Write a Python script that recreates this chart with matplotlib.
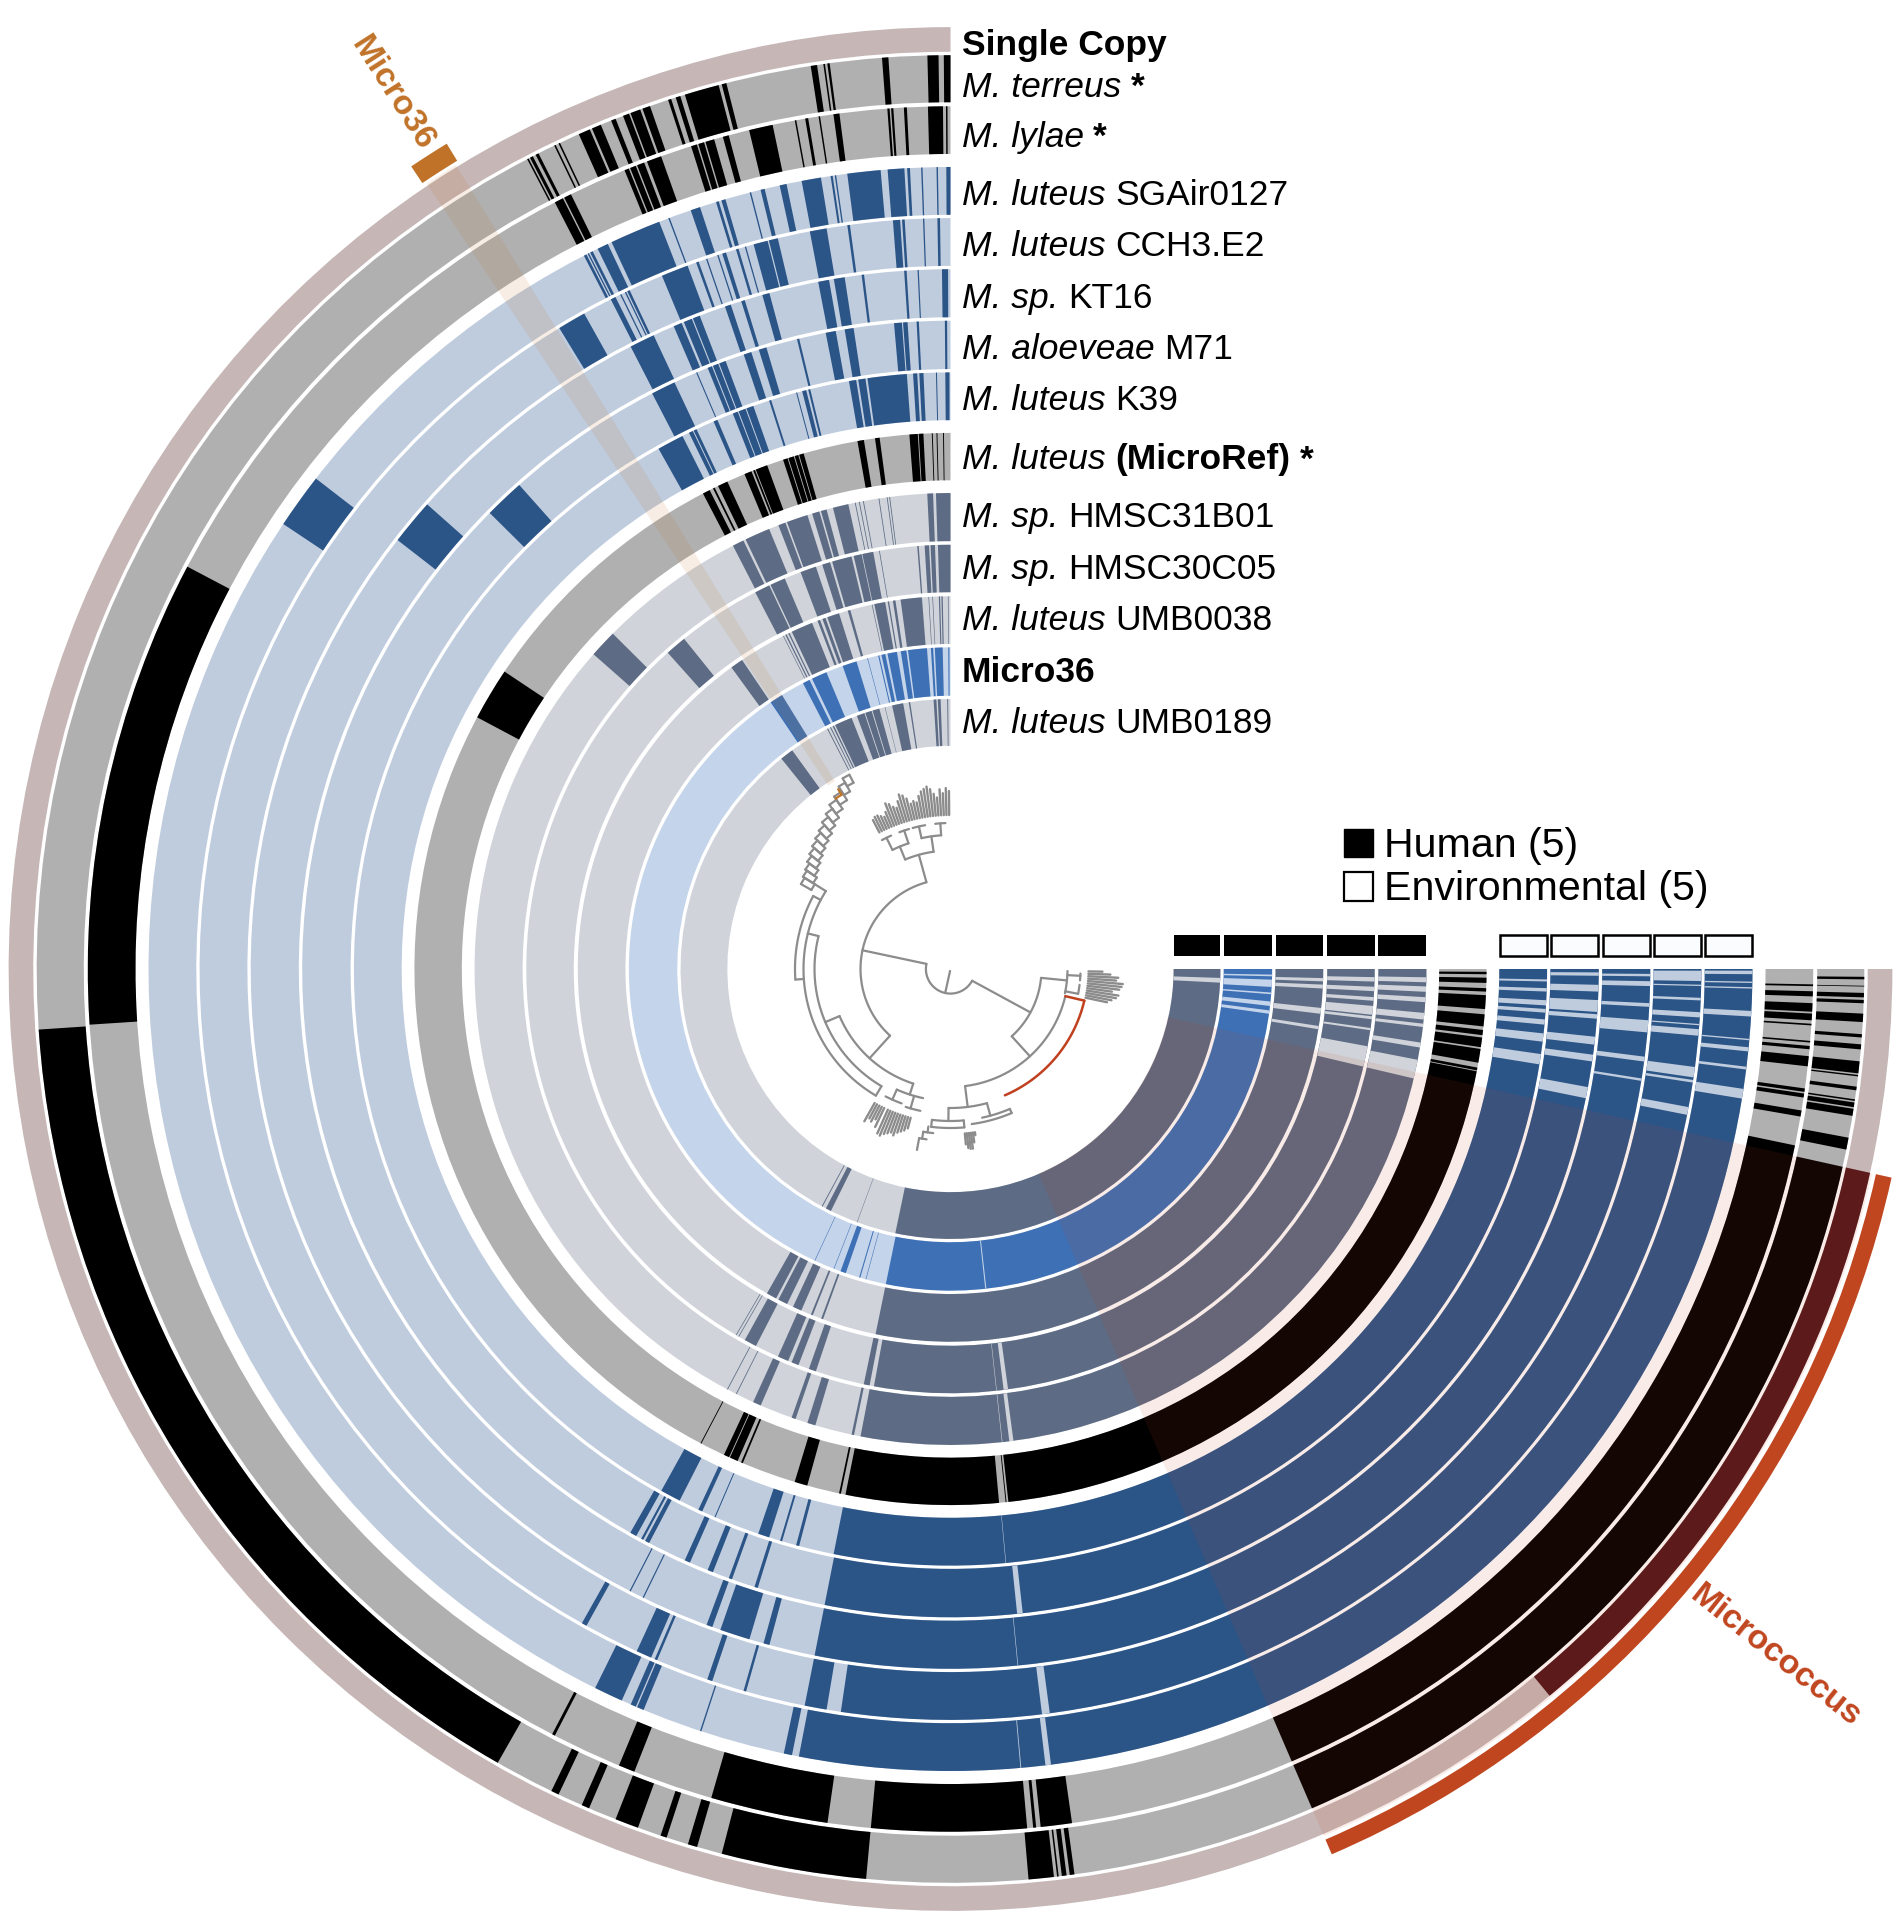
import matplotlib
matplotlib.use("Agg")
import matplotlib.pyplot as plt
from matplotlib.patches import Wedge, Rectangle
import numpy as np

plt.rcParams['font.family'] = ['Liberation Sans', 'DejaVu Sans']

# angle = degrees counter-clockwise from 12 o'clock; the track runs 0..270
SWEEP = 270
ring_names = ['single', 'terreus', 'lylae', 'SGAir0127', 'CCH3', 'KT16', 'M71', 'K39', 'MicroRef',
              'HMSC31B01', 'HMSC30C05', 'UMB0038', 'Micro36', 'UMB0189']
ring_outer = [940, 912, 861, 800.4, 749.4, 698.4, 647, 595.4, 535, 475, 423.4, 372, 321, 269.4]
ring_inner = [915.4, 865, 813.4, 752.7, 701.7, 650.4, 598.7, 547.7, 487.7, 427, 376, 324.4, 272.7, 222.7]

# presence intervals along the track
single_marks = [(219.5, 257.5)]
terreus_marks = [(0, .42), (.75, 1.45), (3.9, 4.3), (7.6, 7.75), (7.9, 8.0), (8.4, 8.8), (14.2, 14.5), (14.7, 16.9),
                 (17.2, 17.5), (17.8, 18), (19.2, 19.7), (19.85, 20.5), (20.6, 21), (21.5, 21.8), (22.5, 23.1),
                 (23.25, 24), (25.3, 25.4), (25.6, 25.7), (26.8, 27), (27.2, 27.4), (27.5, 27.6),
                 (93.8, 150.3), (154.1, 154.6), (156.2, 156.7), (158.5, 160), (161.5, 161.9), (163.3, 163.9),
                 (165.5, 174.7), (184.9, 186.5), (186.7, 186.8), (187, 187.3), (187.5, 187.8), (203.3, 257.5)]
lylae_marks = [(.5, 1.5), (.2, .3), (2.9, 3.1), (3.8, 3.95), (4.05, 4.2), (7.4, 7.8), (8.7, 8.8), (9.5, 9.7),
               (10.3, 10.4), (11.9, 13.5), (14.9, 15.3), (15.9, 16.5), (16.6, 17), (17.1, 17.5), (19.6, 20.6),
               (20.8, 21.3), (21.4, 21.8), (21.9, 22.2), (26.1, 26.6), (26.7, 27.3), (62.2, 93.7), (152.5, 152.7),
               (157.4, 158.5), (163.9, 171.8), (174.7, 185.1), (185.5, 185.7), (186, 188.1), (203.3, 258.2)]
SGAir_marks = [(0, .3), (.9, 1.0), (2.0, 2.1), (2.9, 3.1), (3.3, 4.5), (5.0, 7.4), (8.2, 8.3), (8.45, 8.6),
               (9.3, 10.7), (11.8, 12.3), (13.4, 13.7), (14.4, 14.5), (16.3, 16.6), (16.8, 17), (18.2, 18.9),
               (20.5, 20.6), (21.3, 25), (25.3, 26.1), (26.5, 26.7), (26.8, 26.9), (27, 27.2), (52.3, 56.3),
               (153.7, 155.8), (156.5, 156.9), (157, 157.5), (161.8, 161.9), (168, 168.6), (169.1, 270)]
CCH3_marks = [(.8, 1.0), (2.0, 2.1), (3.5, 3.7), (3.85, 4.4), (7.7, 7.9), (9.5, 10.8), (13.3, 14), (14.1, 15.2),
              (15.8, 15.9), (16.4, 16.6), (17.4, 17.7), (18, 18.1), (18.9, 19), (19.6, 19.8), (20.5, 22.6),
              (25.3, 25.5), (25.6, 25.7), (26, 26.1), (26.5, 26.9), (29.2, 31.4), (150.6, 151), (155.3, 156.5),
              (156.8, 157), (161.1, 161.5), (164, 164.2), (168.8, 170.5), (171.6, 270)]
KT16_marks = [(.2, .7), (2.6, 2.7), (3.6, 3.8), (7.1, 7.3), (8.7, 9.6), (10, 10.9), (15, 15.6), (17.1, 17.4),
              (18.3, 18.8), (21, 21.6), (21.7, 22.4), (22.6, 23.3), (25.1, 27.2), (48.4, 52.2), (152.7, 152.8),
              (153.9, 154), (159.6, 160.1), (160.8, 163.3), (164.5, 165), (168.8, 270)]
M71_marks = [(.3, .5), (2.8, 3), (3.8, 4.2), (4.3, 5), (8.6, 9.4), (10.2, 11.1), (13.5, 13.7), (16.5, 17.2),
             (17.9, 18.6), (20.3, 20.9), (21, 21.5), (21.6, 22), (23, 23.1), (25.2, 27.4), (41.7, 45.3),
             (150.4, 151), (151.5, 151.7), (151.9, 152.3), (155.8, 156.3), (158, 158.5), (160, 160.3), (162.4, 162.7),
             (168.8, 270)]
K39_marks = [(.1, .5), (1.3, 1.4), (2.6, 3), (3.2, 3.6), (4.2, 8), (8.2, 8.9), (9.1, 9.8), (13.6, 13.8), (14, 14.4),
             (14.9, 15), (17.5, 17.7), (19.3, 20), (20.1, 20.8), (20.9, 21.4), (23, 23.4), (25.2, 25.5), (25.6, 26),
             (26.7, 29.3), (151, 153), (155, 155.4), (156.7, 156.8), (161.2, 162.3), (163.4, 163.6), (165, 165.3),
             (168.7, 270)]
MicroRef_marks = [(.7, .8), (1.4, 1.5), (1.9, 2), (2.9, 3.4), (3.5, 4.4), (7.6, 8.1), (9.3, 10), (15.9, 16.4),
                  (16.5, 16.9), (17, 17.6), (17.7, 18.2), (20, 21.3), (21.4, 21.6), (21.8, 22.6), (24.6, 25.7),
                  (26.1, 26.3), (26.7, 27.5), (56.3, 62), (152.2, 152.3), (155, 155.6), (155.7, 156.6), (157, 157.2),
                  (163.1, 164.5), (168, 168.2), (168.7, 185.2), (185.9, 186), (186.2, 259)]
HMSC31B01_marks = [(0, 1.75), (2.1, 2.8), (7.3, 7.4), (7.6, 7.7), (8.6, 8.7), (10.5, 10.6), (11, 11.1), (11.5, 11.6),
                   (12.4, 14.3), (15.1, 15.8), (16, 16.9), (17.5, 20.1), (20.3, 21.2), (22.4, 25.5), (25.8, 27.2),
                   (45.2, 48.6), (152, 152.1), (153.2, 153.3), (155.5, 156.5), (160.5, 161), (162.5, 163.5),
                   (168, 168.3), (169.1, 270)]
HMSC30C05_marks = [(0, 1.7), (2.1, 2.7), (2.9, 3.5), (4.3, 4.5), (9.6, 9.7), (10.5, 12), (12.1, 13.2), (13.5, 16.2),
                   (16.5, 17.6), (18.5, 20.7), (23, 25.1), (25.3, 27.4), (38.9, 41.8), (149.6, 149.7), (150, 150.1),
                   (151, 152.7), (156, 157.5), (158, 159), (160.5, 161.5), (168.2, 169), (169.6, 270)]
UMB0038_marks = [(.3, .4), (1.2, 1.4), (1.6, 1.8), (2.7, 2.8), (3.3, 3.4), (4.4, 7.7), (8.5, 8.9), (9.5, 9.7),
                 (10.1, 11.8), (12.1, 12.2), (15.6, 16), (17.4, 19.3), (19.6, 20.1), (20.5, 20.9), (21.8, 25.2),
                 (25.6, 25.8), (26.1, 26.3), (26.6, 26.7), (34, 36), (150.5, 152.1), (152.5, 154), (155, 156.4),
                 (158, 158.3), (159.7, 160), (168.4, 270)]
Micro36_marks = [(.2, .4), (1.4, 2.8), (3.1, 3.5), (4.2, 7.6), (7.9, 8.9), (9.6, 11.3), (11.7, 12.4), (12.8, 13),
                 (14.9, 15), (17, 19.6), (22.7, 25.5), (26, 27.3), (31.6, 34), (155, 155.1), (158.7, 158.8),
                 (160, 161), (163.5, 163.7), (164.7, 164.8), (168.4, 270)]
UMB0189_marks = [(.5, .7), (2.1, 2.7), (3, 3.6), (8.6, 8.9), (10.1, 12.5), (14, 14.1), (15.3, 16.8), (17, 18.4),
                 (18.6, 20.3), (21.5, 25.3), (25.6, 25.9), (26.3, 26.5), (27, 27.2), (35.9, 38.8), (151.5, 151.7),
                 (152.5, 153.7), (159.7, 159.8), (168.2, 270)]

# further intervals, read as degrees back from the end of the track
terreus_tail = [(.49, .65), (1.05, 1.1), (1.5, 1.78), (1.94, 2.15), (2.8, 3.33), (4.09, 4.3), (4.73, 5.05), (5.8, 6.56),
                (6.66, 6.75), (7.4, 7.63), (8.2, 8.3), (8.4, 8.7), (8.8, 9.25), (10.64, 11.4)]
lylae_tail = [(1.02, 1.14), (1.48, 1.82), (2.27, 2.84), (2.96, 3.41), (3.64, 3.75), (4.78, 4.89), (5.12, 5.34),
              (5.8, 6.48), (7.96, 8.19), (8.3, 8.57), (9.44, 9.85)]
MicroRef_tail = [(.3, .56), (.93, 1.49), (2.05, 2.42), (2.8, 4.29), (4.85, 6.15), (6.53, 7.09), (7.35, 8.39),
                 (8.58, 10.07), (10.6, 10.9)]

# absences inside the core block: along the track, and back from its end
SGAir_gaps = [(186.8, 187.2), (185, 185.06)]
SGAir_tail = [(.12, .37), (.9, 1), (1.3, 1.4), (3, 3.4), (5, 5.1), (5.6, 5.9), (7, 7.2), (8.6, 9.3)]
CCH3_gaps = [(187, 187.6)]
CCH3_tail = [(.13, .92), (1.2, 1.3), (2.2, 2.4), (3.3, 3.7), (4.2, 4.3), (4.6, 5.1), (7.5, 8.3), (8.5, 8.7), (10.6, 11.2)]
KT16_gaps = [(185.5, 185.55)]
KT16_tail = [(.4, .6), (1, 1.4), (2.8, 3.1), (4.2, 5.2), (7.2, 7.6), (9, 9.2)]
M71_gaps = [(185.9, 186.4)]
M71_tail = [(.3, .6), (1.4, 2), (2.75, 3.8), (4, 4.4), (6, 6.7), (7.6, 8.2), (10.5, 11.5)]
K39_gaps = [(185.3, 185.35)]
K39_tail = [(1, 1.2), (1.84, 2.17), (3, 3.5), (3.84, 4.2), (4.85, 5.35), (6.2, 7), (8.2, 9.2)]
HMSC31B01_gaps = [(186.2, 186.27), (187.1, 187.6)]
HMSC31B01_tail = [(1, 1.6), (2.1, 2.75), (3.4, 4), (5.3, 6.1), (6.6, 7), (8.9, 9.5), (11, 13.3)]
HMSC30C05_gaps = [(186.2, 186.27), (187.2, 187.8)]
HMSC30C05_tail = [(1.1, 1.7), (2.4, 3), (3.8, 4.3), (5, 6.2), (6.4, 6.8), (8, 8.3), (10.5, 13.3)]
UMB0038_tail = [(1.4, 1.9), (2.4, 3), (6, 6.9), (8.8, 9.3)]
Micro36_gaps = [(186.2, 186.4)]
Micro36_tail = [(1, 1.3), (1.9, 3.2), (4.2, 4.5), (5.8, 6.6), (7.4, 8)]
UMB0189_tail = [(1.9, 2.9)]

ring_marks = [single_marks, terreus_marks, lylae_marks, SGAir_marks, CCH3_marks, KT16_marks, M71_marks, K39_marks,
              MicroRef_marks, HMSC31B01_marks, HMSC30C05_marks, UMB0038_marks, Micro36_marks, UMB0189_marks]
ring_tail_marks = [[], terreus_tail, lylae_tail, [], [], [], [], [], MicroRef_tail, [], [], [], [], []]
ring_gaps = [[], [], [], SGAir_gaps, CCH3_gaps, KT16_gaps, M71_gaps, K39_gaps, [], HMSC31B01_gaps, HMSC30C05_gaps,
             [], Micro36_gaps, []]
ring_tail_gaps = [[], [], [], SGAir_tail, CCH3_tail, KT16_tail, M71_tail, K39_tail, [], HMSC31B01_tail, HMSC30C05_tail,
                  UMB0038_tail, Micro36_tail, UMB0189_tail]

BLACK = ('#b0b0b0', '#000000')
BLUE = ('#bfccde', '#2b5487')
GREY = ('#d0d4da', '#5d6b84')
ring_colors = [('#c6b6b6', '#52161a'), BLACK, BLACK, BLUE, BLUE, BLUE, BLUE, BLUE, BLACK, GREY, GREY, GREY,
               ('#c4d4ea', '#3e70b5'), GREY]

labels = [[('Single Copy', 'b')],
          [('M. terreus', 'i'), (' *', 'b')],
          [('M. lylae', 'i'), (' *', 'b')],
          [('M. luteus', 'i'), (' SGAir0127', 'n')],
          [('M. luteus', 'i'), (' CCH3.E2', 'n')],
          [('M. sp.', 'i'), (' KT16', 'n')],
          [('M. aloeveae', 'i'), (' M71', 'n')],
          [('M. luteus', 'i'), (' K39', 'n')],
          [('M. luteus', 'i'), (' ', 'n'), ('(MicroRef)', 'b'), (' *', 'b')],
          [('M. sp.', 'i'), (' HMSC31B01', 'n')],
          [('M. sp.', 'i'), (' HMSC30C05', 'n')],
          [('M. luteus', 'i'), (' UMB0038', 'n')],
          [('Micro36', 'b')],
          [('M. luteus', 'i'), (' UMB0189', 'n')]]
label_baseline_px = [55.4, 97.1, 147.2, 205.4, 256.4, 307.7, 359, 409.6, 469.4, 527.3, 578.6, 630.1, 681.6, 733]
human_rings = ['UMB0189', 'Micro36', 'UMB0038', 'HMSC30C05', 'HMSC31B01']
env_rings = ['K39', 'M71', 'KT16', 'CCH3', 'SGAir0127']
legend_texts = ['Human (5)', 'Environmental (5)']

micrococcus_span = (203.3, 257.5)
micro36_span = (31.6, 33.7)

# dendrogram: arcs (radius, angle from, angle to), spokes (angle, radius from, radius to)
tree_arcs = [(24.6, 78, 241.5), (90, 15.5, 137.8), (118.5, 8.2, 22.5), (132.5, 18.5, 26), (134, 4, 12.5),
             (146, 2, 6), (146, 10, 15), (146, 16.5, 20.5), (146, 24, 28),
             (155.5, 62, 93.9), (147, 58, 76), (136, 76, 149.5), (147, 76, 149.5), (120.5, 113, 162), (132, 156, 168),
             (143, 153, 160), (145, 162, 168), (91, 222.3, 264.4), (117, 258, 269), (130, 259, 263), (130, 265, 268),
             (118, 187.1, 256.6), (139, 179.2, 195.2), (152, 192, 203), (156.5, 187.8, 203), (152, 173, 185),
             (159, 173, 185), (165, 170.5, 174), (172, 169.5, 172)]
tree_spokes = [(167.5, 2, 24.6), (78, 24.6, 90), (241.5, 24.6, 90), (15.5, 90, 118.5), (22.5, 118.5, 132.5),
               (8.2, 118.5, 134), (4, 134, 146), (12.5, 134, 146), (18.5, 132.5, 146), (26, 132.5, 146),
               (93.9, 148, 155.5), (62, 147, 155.5), (58, 147, 160), (76, 136, 147), (149.5, 136, 147),
               (113, 120.5, 136), (137.8, 90, 120.5), (162, 120.5, 132), (156, 132, 143), (164, 132, 145),
               (264.4, 91, 117), (222.3, 91, 118), (259, 117, 130), (267, 117, 130), (187.1, 118, 139),
               (195.2, 139, 152), (203, 152, 156.5), (179.2, 139, 152), (185, 152, 159), (173, 152, 159),
               (172, 159, 165), (170.5, 165, 172), (169.5, 172, 184)]
# ladder of small clades: angle from, angle to, inner radius, outer radius
tree_boxes = [(58, 60.4, 160, 172), (55.6, 58, 162, 174), (53.2, 55.6, 165, 176), (50.8, 53.2, 168, 179),
              (48.4, 50.8, 171, 182), (46, 48.4, 174, 185), (43.6, 46, 177, 188), (41.2, 43.6, 180, 191),
              (38.8, 41.2, 184, 195), (36.4, 38.8, 188, 199), (34, 36.4, 193, 204), (31.5, 34, 198, 208),
              (29.5, 31.5, 204, 214), (27.5, 29.5, 210, 219)]
# leaves: (angle, radius from, radius to)
tree_leaves = [(.5, 146, 178), (1.5, 146, 181), (2.5, 146, 176), (3.5, 146, 180), (4.5, 146, 172), (5.5, 146, 176),
               (6.5, 146, 181), (7.5, 146, 184), (8.5, 146, 182), (9.5, 146, 180), (10.5, 146, 176), (11.5, 146, 170),
               (12.5, 146, 172), (13.5, 146, 170), (14.5, 146, 176), (15.5, 146, 180), (16.5, 146, 182),
               (17.5, 146, 176), (18.5, 146, 170), (19.5, 146, 172), (20.5, 146, 176), (21.5, 146, 178),
               (22.5, 146, 170), (23.5, 146, 166), (24.5, 146, 168), (25.5, 146, 170), (26.5, 146, 170), (27.5, 146, 168),
               (150.5, 146, 175), (151.5, 146, 170), (152.5, 146, 172), (153.5, 146, 168), (154.5, 146, 175),
               (156, 146, 180), (157, 146, 181), (158, 146, 178), (159, 146, 176), (160, 146, 174), (161, 146, 176),
               (162, 146, 172), (163, 146, 170), (164, 146, 168), (165, 146, 165),
               (185, 157, 176), (185.7, 157, 180), (186.4, 157, 181), (187.1, 157, 181), (187.8, 157, 175), (188.5, 157, 168),
               (258, 130, 160), (259, 130, 164), (260, 130, 168), (261, 130, 170), (262, 130, 163), (263, 130, 170),
               (264, 130, 172), (265, 130, 173), (266, 130, 166), (267, 130, 168), (268, 130, 160), (269, 130, 152)]
tree_red_arc = (137.5, 203.3, 256.7)
tree_red_spoke = (256.7, 118, 137.5)
tree_orange_arc = (205.5, 32, 34)
tree_orange_spoke = (32, 205.5, 212)

CX, CY = 950.5, 969.0
RS = 1.002
W, H = 1901, 1920
fig = plt.figure(figsize=(W / 100, H / 100), dpi=100)
ax = fig.add_axes([0, 0, 1, 1])
ax.set_xlim(-CX, W - CX)
ax.set_ylim(-(H - CY), CY)
ax.axis('off')


def band(r0, r1, a, b, color, alpha=None, z=2):
    r0, r1 = r0 * RS, r1 * RS
    ax.add_patch(Wedge((0, 0), r1, 90 + a, 90 + b, width=r1 - r0, facecolor=color, edgecolor='none', lw=0,
                       alpha=alpha, zorder=z))


def polar(theta, r):
    t = np.radians(90 + np.asarray(theta, dtype=float))
    return r * np.cos(t), r * np.sin(t)


for i, name in enumerate(ring_names):
    r0, r1 = ring_inner[i], ring_outer[i]
    base, dark = ring_colors[i]
    band(r0, r1, 0, SWEEP, base)
    for a, b in ring_marks[i]:
        band(r0, r1, a, b, dark)
    for a, b in ring_tail_marks[i]:
        band(r0, r1, SWEEP - b, SWEEP - a, dark)
    for a, b in ring_gaps[i]:
        band(r0, r1, a, b, base, z=3)
    for a, b in ring_tail_gaps[i]:
        band(r0, r1, SWEEP - b, SWEEP - a, base, z=3)

# selections
band(222, 942, *micrococcus_span, '#c0431f', alpha=0.10, z=4)
band(946, 962, *micrococcus_span, '#c0461f', z=4)
band(220, 942, *micro36_span, '#c07228', alpha=0.12, z=4)
band(945, 965, 31.4, 33.9, '#c07228', z=4)
ax.text(392 - CX, CY - 94, 'Micro36', rotation=-57.5, rotation_mode='anchor', ha='center', va='center',
        color='#c07228', fontsize=24.5, fontweight='bold', zorder=6)
ax.text(1776 - CX, CY - 1656, 'Micrococcus', rotation=-38.5, rotation_mode='anchor', ha='center', va='center',
        color='#c0461f', fontsize=24.5, fontweight='bold', zorder=6)


# dendrogram
def arc(r, a, b, color='#8c8c8c', lw=1.6):
    t = np.linspace(a, b, max(int(abs(b - a) * 2), 2))
    x, y = polar(t, r)
    ax.plot(x, y, color=color, lw=lw, solid_capstyle='round', zorder=5)


def spoke(th, r0, r1, color='#8c8c8c', lw=1.6):
    x0, y0 = polar(th, r0)
    x1, y1 = polar(th, r1)
    ax.plot([x0, x1], [y0, y1], color=color, lw=lw, solid_capstyle='round', zorder=5)


for r, a, b in tree_arcs:
    arc(r, a, b)
for th, r0, r1 in tree_spokes:
    spoke(th, r0, r1)
for a, b, r0, r1 in tree_boxes:
    arc(r0, a, b)
    arc(r1, a, b)
    spoke(a, r0, r1)
    spoke(b, r0, r1)
for th, r0, r1 in tree_leaves:
    spoke(th, r0 + 8, r1, lw=1.7)
arc(*tree_red_arc, color='#c0401f', lw=1.8)
spoke(*tree_red_spoke, color='#c0401f', lw=1.8)
arc(*tree_orange_arc, color='#c07228', lw=1.6)
spoke(*tree_orange_spoke, color='#c07228', lw=1.6)

# sample-group boxes above the track ends
for name in human_rings:
    i = ring_names.index(name)
    ax.add_patch(Rectangle((ring_inner[i] * RS, CY - 956), (ring_outer[i] - ring_inner[i]) * RS, 21,
                           facecolor='black', edgecolor='none', zorder=5))
for name in env_rings:
    i = ring_names.index(name)
    ax.add_patch(Rectangle((ring_inner[i] * RS + 0.5, CY - 956), (ring_outer[i] - ring_inner[i]) * RS - 1, 21,
                           facecolor='#fbfcfe', edgecolor='black', lw=1.8, zorder=5))

# legend
ax.add_patch(Rectangle((1344 - CX, CY - 857), 29, 28, facecolor='black', edgecolor='black', lw=1, zorder=5))
ax.add_patch(Rectangle((1344 - CX, CY - 901), 29, 29, facecolor='white', edgecolor='black', lw=1.6, zorder=5))
ax.text(1384 - CX, CY - 846.4, legend_texts[0], fontsize=29.6, va='center', ha='left', color='black')
ax.text(1384 - CX, CY - 889.4, legend_texts[1], fontsize=29.6, va='center', ha='left', color='black')

# row labels
fig.canvas.draw()
rend = fig.canvas.get_renderer()
styles = {'i': dict(style='italic'), 'n': dict(), 'b': dict(fontweight='bold')}
for i, parts in enumerate(labels):
    x = 961.5 - CX
    y = CY - label_baseline_px[i]
    for s, st in parts:
        lead = s.startswith(' ')
        body = s.strip() if s.strip() else ''
        if lead:
            x += 9.8
        if not body:
            continue
        t = ax.text(x, y, body, fontsize=25.5, ha='left', va='baseline', color='black', zorder=6, **styles[st])
        x = t.get_window_extent(rend).x1 - CX

fig.savefig('out.png', dpi=100, facecolor='white')
